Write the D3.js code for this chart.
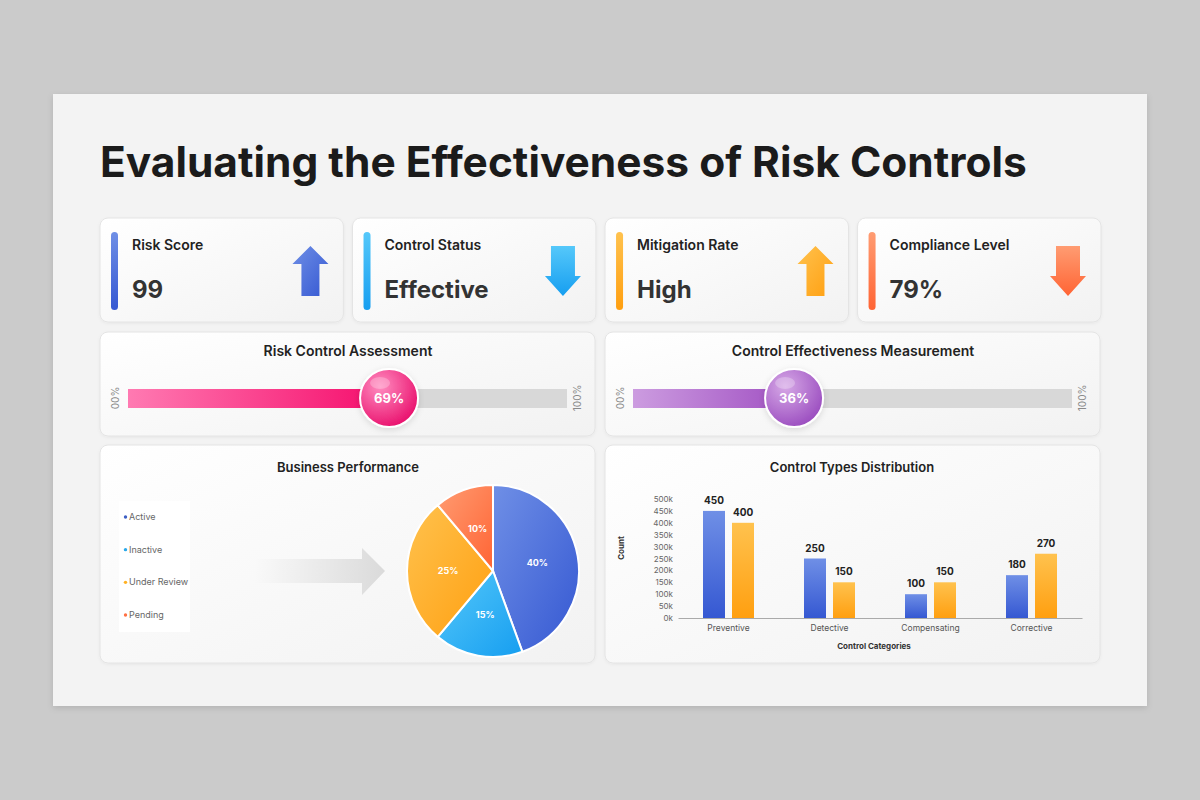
<!DOCTYPE html>
<html>
<head>
<meta charset="utf-8">
<script src="https://cdn.jsdelivr.net/npm/d3@7"></script>
<style>
  body { margin: 0; background: #cbcbcb; }
  svg { display: block; font-family: "Inter", "Lato", "Noto Sans", sans-serif; }
</style>
</head>
<body>
<div id="chart"></div>
<script>
const title = "Evaluating the Effectiveness of Risk Controls";

const kpiLabels = ["Risk Score", "Control Status", "Mitigation Rate", "Compliance Level"];
const kpiValues = ["99", "Effective", "High", "79%"];
const kpiTrends = ["up", "down", "up", "down"];

const gaugeTitles = ["Risk Control Assessment", "Control Effectiveness Measurement"];
const gaugeValues = [69, 36];

const pieLabels = ["Active", "Inactive", "Under Review", "Pending"];
const pieValues = [40, 15, 25, 10];

const barCategories = ["Preventive", "Detective", "Compensating", "Corrective"];
const seriesA = [450, 250, 100, 180];
const seriesB = [400, 150, 150, 270];
const yTicks = [0, 50, 100, 150, 200, 250, 300, 350, 400, 450, 500];

// colour pairs (light, dark) used for gradients
const accent = [
  ["#6f8fe6", "#3558d2"],
  ["#55c8fa", "#169ef0"],
  ["#ffc24e", "#ff9f10"],
  ["#ff9c72", "#ff6434"]
];
const legendDots = ["#3d5fc4", "#2aa9ea", "#ffb020", "#ff7043"];

const svg = d3.select("#chart").append("svg")
  .attr("width", 1200).attr("height", 800);
const defs = svg.append("defs");

function linGrad(id, c1, c2, x2, y2) {
  const g = defs.append("linearGradient").attr("id", id)
    .attr("x1", 0).attr("y1", 0).attr("x2", x2).attr("y2", y2);
  g.append("stop").attr("offset", "0%").attr("stop-color", c1);
  g.append("stop").attr("offset", "100%").attr("stop-color", c2);
}

linGrad("panelBg", "#ffffff", "#f2f2f2", 1, 1);
accent.forEach((c, i) => {
  linGrad("acc" + i, c[0], c[1], 0, 1);
  linGrad("diag" + i, c[0], c[1], 1, 1);
});
linGrad("pinkFill", "#ff7ab2", "#f50c6b", 1, 0);
linGrad("purpleFill", "#cc9ce0", "#a04fc2", 1, 0);
linGrad("grayArrow", "rgba(220,220,220,0)", "#dadada", 1, 0);

function radGrad(id, c1, c2) {
  const g = defs.append("radialGradient").attr("id", id)
    .attr("cx", "35%").attr("cy", "30%").attr("r", "75%");
  g.append("stop").attr("offset", "0%").attr("stop-color", c1);
  g.append("stop").attr("offset", "100%").attr("stop-color", c2);
}
radGrad("pinkKnob", "#ff8cc0", "#e90f6c");
radGrad("purpleKnob", "#d6a8e6", "#9a4cbf");

const shadow = defs.append("filter").attr("id", "shadow")
  .attr("x", "-10%").attr("y", "-10%").attr("width", "120%").attr("height", "130%");
shadow.append("feDropShadow").attr("dx", 0).attr("dy", 2).attr("stdDeviation", 3)
  .attr("flood-color", "#000").attr("flood-opacity", 0.12);
const softShadow = defs.append("filter").attr("id", "softShadow")
  .attr("x", "-5%").attr("y", "-5%").attr("width", "110%").attr("height", "115%");
softShadow.append("feDropShadow").attr("dx", 0).attr("dy", 1).attr("stdDeviation", 1.5)
  .attr("flood-color", "#000").attr("flood-opacity", 0.05);

// slide
svg.append("rect").attr("x", 53).attr("y", 94).attr("width", 1094).attr("height", 612)
  .attr("fill", "#f3f3f3").attr("filter", "url(#shadow)");

const titleText = svg.append("text").attr("x", 100).attr("y", 177)
  .attr("font-size", 40).attr("font-weight", 700).attr("fill", "#1b1b1b").text(title);
const tw = titleText.node().getComputedTextLength();
titleText.attr("font-size", 40 * 927 / tw);

function panel(x, y, w, h) {
  return svg.append("rect").attr("x", x).attr("y", y).attr("width", w).attr("height", h)
    .attr("rx", 8).attr("fill", "url(#panelBg)").attr("stroke", "#e4e4e4")
    .attr("filter", "url(#softShadow)");
}

// KPI cards
const cardX = d3.scaleBand().domain(d3.range(4)).range([100, 1101]).paddingInner(0.036);
kpiLabels.forEach((label, i) => {
  const x = cardX(i), w = cardX.bandwidth();
  panel(x, 218, w, 104);
  svg.append("rect").attr("x", x + 11).attr("y", 232).attr("width", 7).attr("height", 78)
    .attr("rx", 3.5).attr("fill", "url(#acc" + i + ")");
  svg.append("text").attr("x", x + 32).attr("y", 250)
    .attr("font-size", 14).attr("font-weight", 600).attr("fill", "#222").text(label);
  svg.append("text").attr("x", x + 32).attr("y", 298)
    .attr("font-size", 24).attr("font-weight", 700).attr("fill", "#333").text(kpiValues[i]);
  const cx = x + w - 33;
  const up = kpiTrends[i] === "up";
  const pts = up
    ? [[cx, 246], [cx + 18, 264], [cx + 9, 264], [cx + 9, 296], [cx - 9, 296], [cx - 9, 264], [cx - 18, 264]]
    : [[cx - 12, 246], [cx + 12, 246], [cx + 12, 276], [cx + 18, 276], [cx, 296], [cx - 18, 276], [cx - 12, 276]];
  svg.append("path").attr("d", d3.line()(pts) + "Z")
    .attr("fill", up ? "url(#diag" + i + ")" : "url(#acc" + i + ")");
});

// gauges
const gaugeFills = ["url(#pinkFill)", "url(#purpleFill)"];
const gaugeKnobs = ["url(#pinkKnob)", "url(#purpleKnob)"];
const gaugeX = [100, 605];
gaugeValues.forEach((v, i) => {
  const x0 = gaugeX[i];
  panel(x0, 332, 495, 104);
  svg.append("text").attr("x", x0 + 248).attr("y", 356).attr("text-anchor", "middle")
    .attr("font-size", 14).attr("font-weight", 600).attr("fill", "#222").text(gaugeTitles[i]);
  const t0 = x0 + 28, t1 = x0 + 467;
  svg.append("rect").attr("x", t0).attr("y", 389).attr("width", t1 - t0).attr("height", 19)
    .attr("fill", "#d8d8d8");
  const knob = d3.scaleLinear().domain([0, 100]).range([t0 + 52, t0 + 355]);
  svg.append("rect").attr("x", t0).attr("y", 389).attr("width", knob(v) - t0).attr("height", 19)
    .attr("fill", gaugeFills[i]);
  [["00%", x0 + 19], ["100%", x0 + 481]].forEach(([t, lx]) => {
    svg.append("text").attr("transform", `translate(${lx},398) rotate(-90)`)
      .attr("text-anchor", "middle").attr("font-size", 10).attr("fill", "#8a8a8a").text(t);
  });
  svg.append("circle").attr("cx", knob(v)).attr("cy", 398).attr("r", 29)
    .attr("fill", gaugeKnobs[i]).attr("stroke", "#fff").attr("stroke-width", 2)
    .attr("filter", "url(#shadow)");
  svg.append("ellipse").attr("cx", knob(v) - 9).attr("cy", 383).attr("rx", 10).attr("ry", 6)
    .attr("fill", "#fff").attr("opacity", 0.25);
  svg.append("text").attr("x", knob(v)).attr("y", 403).attr("text-anchor", "middle")
    .attr("font-size", 13).attr("font-weight", 700).attr("fill", "#fff").text(v + "%");
});

// business performance
panel(100, 445, 495, 218);
panel(605, 445, 495, 218);
svg.append("text").attr("x", 348).attr("y", 472).attr("text-anchor", "middle")
  .attr("font-size", 13).attr("font-weight", 600).attr("fill", "#222").text("Business Performance");

svg.append("rect").attr("x", 119).attr("y", 501).attr("width", 71).attr("height", 131).attr("fill", "#fff");
const legY = d3.scalePoint().domain(pieLabels).range([520, 618]);
pieLabels.forEach((l, i) => {
  svg.append("circle").attr("cx", 125.5).attr("cy", legY(l) - 3).attr("r", 1.7).attr("fill", legendDots[i]);
  svg.append("text").attr("x", 129).attr("y", legY(l)).attr("font-size", 9)
    .attr("fill", "#666").text(l);
});

svg.append("path")
  .attr("d", "M255,559 L362,559 L362,548 L385,571 L362,595 L362,583 L255,583 Z")
  .attr("fill", "url(#grayArrow)");

const pie = d3.pie().sort(null).value(d => d)(pieValues);
const arc = d3.arc().innerRadius(0).outerRadius(86);
const labelArc = d3.arc().innerRadius(45).outerRadius(45);
const pg = svg.append("g").attr("transform", "translate(493,571)");
pg.selectAll("path").data(pie).join("path")
  .attr("d", arc).attr("fill", (d, i) => "url(#diag" + i + ")")
  .attr("stroke", "#fff").attr("stroke-width", 2);
pg.selectAll("text").data(pie).join("text")
  .attr("transform", d => `translate(${labelArc.centroid(d)})`)
  .attr("text-anchor", "middle").attr("dy", "0.35em")
  .attr("font-size", 9).attr("font-weight", 700).attr("fill", "#fff")
  .text(d => d.data + "%");

// control types distribution
svg.append("text").attr("x", 852).attr("y", 472).attr("text-anchor", "middle")
  .attr("font-size", 13).attr("font-weight", 600).attr("fill", "#222").text("Control Types Distribution");

const x = d3.scaleBand().domain(barCategories).range([678, 1082]);
const y = d3.scaleLinear().domain([0, 500]).range([618, 499]);
const bw = 22, gap = 7;

svg.append("g").attr("transform", "translate(673,0)")
  .call(d3.axisLeft(y).tickValues(yTicks).tickFormat(d => d + "k").tickSize(0).tickPadding(0))
  .call(g => g.select(".domain").remove())
  .call(g => g.selectAll("text").attr("font-size", 8).attr("fill", "#666")
    .attr("font-family", "Inter, Lato, sans-serif"));

svg.append("g").attr("transform", "translate(0,618)")
  .call(d3.axisBottom(x).tickSize(0).tickPadding(7))
  .call(g => g.select(".domain").attr("stroke", "#aaa"))
  .call(g => g.selectAll("text").attr("font-size", 8.5).attr("fill", "#555")
    .attr("font-family", "Inter, Lato, sans-serif"));

const series = [seriesA, seriesB];
const barGrads = ["acc0", "acc2"];
series.forEach((s, k) => {
  const off = k === 0 ? -gap / 2 - bw : gap / 2;
  svg.append("g").selectAll("rect").data(s).join("rect")
    .attr("x", (d, i) => x(barCategories[i]) + x.bandwidth() / 2 + off)
    .attr("y", d => y(d)).attr("width", bw).attr("height", d => y(0) - y(d))
    .attr("fill", "url(#" + barGrads[k] + ")");
  svg.append("g").selectAll("text").data(s).join("text")
    .attr("x", (d, i) => x(barCategories[i]) + x.bandwidth() / 2 + off + bw / 2)
    .attr("y", d => y(d) - 7).attr("text-anchor", "middle")
    .attr("font-size", 10).attr("font-weight", 700).attr("fill", "#222").text(d => d);
});

svg.append("text").attr("transform", "translate(624,548) rotate(-90)").attr("text-anchor", "middle")
  .attr("font-size", 8).attr("font-weight", 700).attr("fill", "#333").text("Count");
svg.append("text").attr("x", 874).attr("y", 649).attr("text-anchor", "middle")
  .attr("font-size", 8).attr("font-weight", 700).attr("fill", "#333").text("Control Categories");
</script>
</body>
</html>
